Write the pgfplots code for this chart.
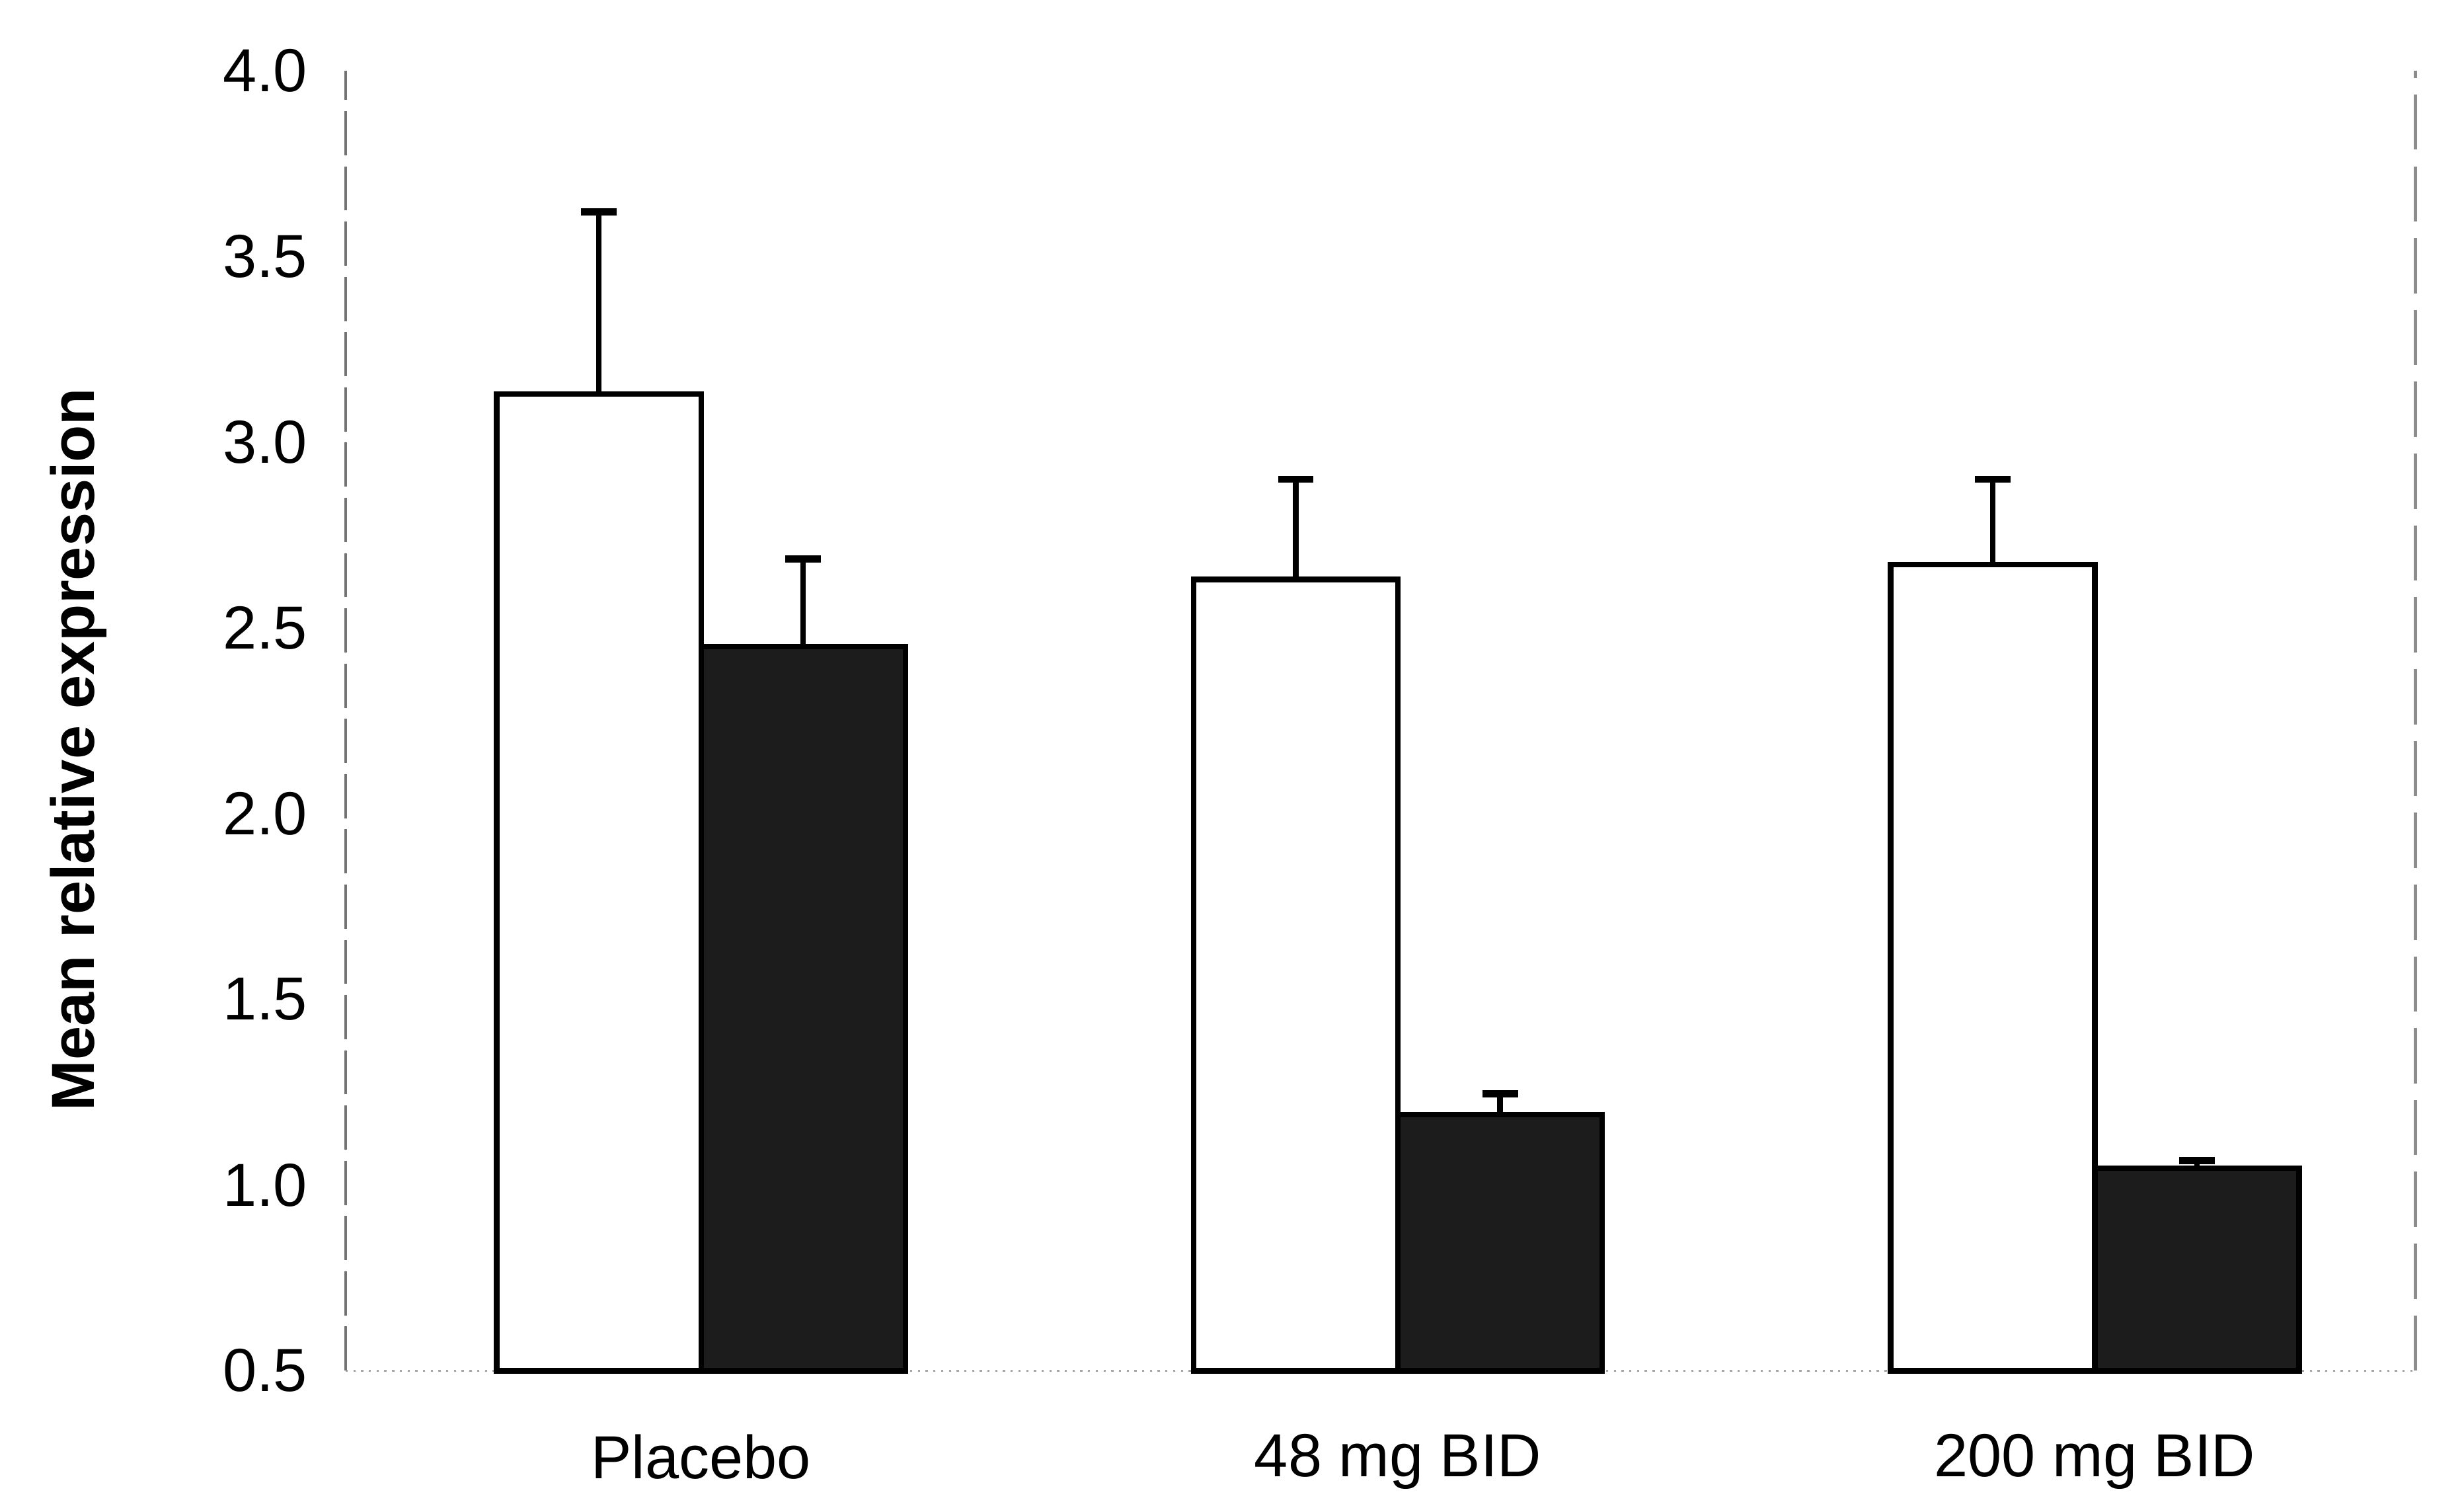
\documentclass[border=0pt]{standalone}
\usepackage{fontspec}
\setmainfont{Liberation Sans}
\usepackage{pgfplots}
\pgfplotsset{compat=1.18}
\definecolor{darkbar}{RGB}{28,28,28}
\begin{document}
\begin{tikzpicture}
\begin{axis}[
  scale only axis, width=13.17cm, height=8.27cm,
  xmin=-0.51, xmax=2.46, ymin=0.5, ymax=4.0,
  y coord trafo/.code={\pgfmathparse{#1-0.5}},
  y coord inv trafo/.code={\pgfmathparse{#1+0.5}},
  ybar=0pt, bar width=1.3cm,
  clip=false,
  xtick={0,1,2}, xticklabels={Placebo,48 mg BID,200 mg BID},
  ytick={0.5,1,1.5,2,2.5,3,3.5,4},
  yticklabels={0.5,1.0,1.5,2.0,2.5,3.0,3.5,4.0},
  major tick length=0pt,
  axis x line*=bottom, axis y line*=left,
  x axis line style={draw=black!35, densely dotted, line width=0.4pt},
  y axis line style={draw=black!55, dash pattern=on 8pt off 2pt, line width=0.5pt},
  tick label style={font=\fontsize{11}{13}\selectfont},
  yticklabel style={xshift=-0.12cm},
  xticklabel style={yshift=-0.28cm},
  ylabel={Mean relative expression},
  ylabel style={font=\fontsize{11}{13}\selectfont\bfseries, at={(rel axis cs:-0.129,0.478)}, anchor=center},
  error bars/y dir=plus, error bars/y explicit,
  error bars/error mark=-,
  error bars/error mark options={rotate=90, line width=1.3pt, mark size=0.113cm, black},
  error bars/error bar style={line width=1pt, black},
]
\addplot[fill=white, draw=black, line width=1pt] coordinates {
  (0,3.13) +- (0,0.49)
  (1,2.63) +- (0,0.27)
  (2,2.67) +- (0,0.23)
};
\addplot[fill=darkbar, draw=black, line width=1pt] coordinates {
  (0,2.45) +- (0,0.235)
  (1,1.19) +- (0,0.055)
  (2,1.045) +- (0,0.02)
};
\draw[black!45, dash pattern=on 10pt off 3pt, line width=0.5pt] (rel axis cs:1,0) -- (rel axis cs:1,1);
\path (rel axis cs:-0.167,-0.0992) (rel axis cs:1.0235,1.0544);
\end{axis}
\end{tikzpicture}
\end{document}
